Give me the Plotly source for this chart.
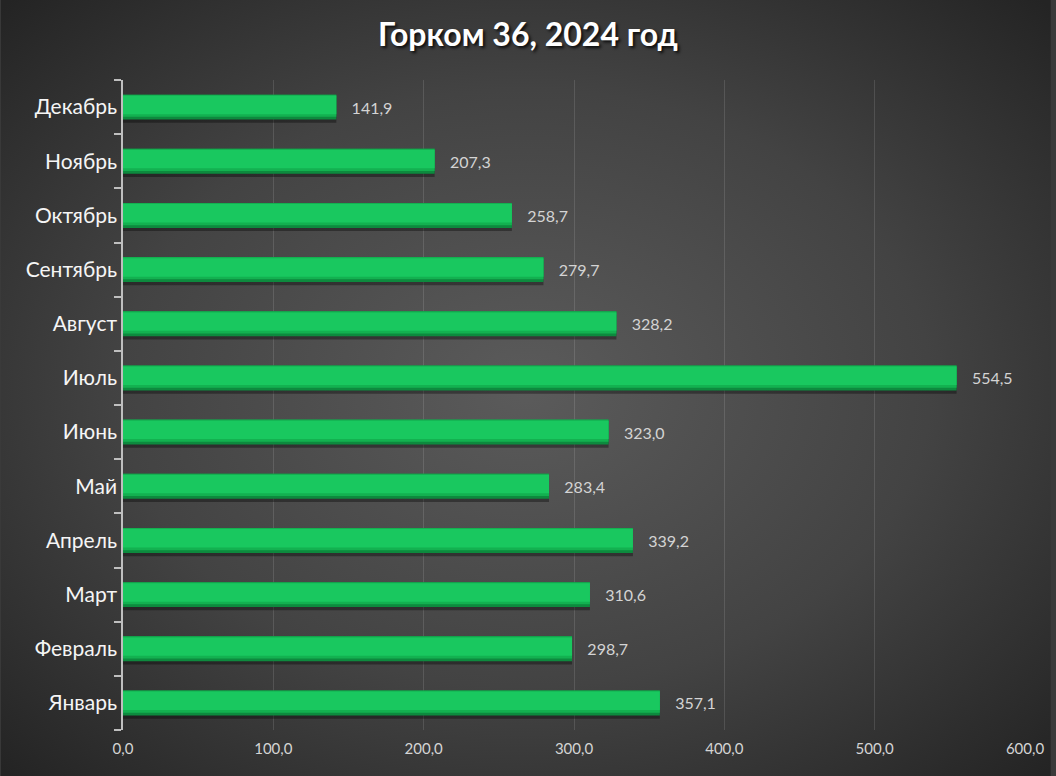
import base64
import plotly.graph_objects as go

# monthly values, Jan at the bottom
months = ['Январь', 'Февраль', 'Март', 'Апрель', 'Май', 'Июнь',
          'Июль', 'Август', 'Сентябрь', 'Октябрь', 'Ноябрь', 'Декабрь']
values = [357.1, 298.7, 310.6, 339.2, 283.4, 323.0,
          554.5, 328.2, 279.7, 258.7, 207.3, 141.9]
x_ticks = [0, 100, 200, 300, 400, 500, 600]

W, H = 1056, 776
ML, MR, MT, MB = 123, 26, 80, 46
pw, ph = W - ML - MR, H - MT - MB

# radial gradient backdrop as an inline svg
svg = (
    f'<svg xmlns="http://www.w3.org/2000/svg" width="{W}" height="{H}">'
    '<defs><radialGradient id="g" cx="50%" cy="50%" r="70%">'
    '<stop offset="0" stop-color="#5b5b5b"/>'
    '<stop offset="0.55" stop-color="#434343"/>'
    '<stop offset="1" stop-color="#242424"/>'
    '</radialGradient></defs>'
    '<rect width="100%" height="100%" fill="url(#g)"/></svg>'
)
bg_src = 'data:image/svg+xml;base64,' + base64.b64encode(svg.encode()).decode()

bw = 0.46
fig = go.Figure()

# soft shadow under each bar
fig.add_trace(go.Bar(
    y=months, x=values, orientation='h',
    width=bw, offset=-bw / 2 - 0.06,
    marker=dict(color='rgba(0,0,0,0.35)', line_width=0),
    hoverinfo='skip', showlegend=False
))
# darker base of the bar
fig.add_trace(go.Bar(
    y=months, x=values, orientation='h',
    width=bw, offset=-bw / 2,
    marker=dict(color='#0d8a3e', line_width=0),
    text=values, texttemplate='   %{x:.1f}', textposition='outside',
    textfont=dict(family='Lato', size=16, color='#d4d4d4'),
    cliponaxis=False, showlegend=False,
    hovertemplate='%{y}: %{x:.1f}<extra></extra>'
))
# mid tone
fig.add_trace(go.Bar(
    y=months, x=values, orientation='h',
    width=bw - 0.05, offset=-bw / 2 + 0.05,
    marker=dict(color='#13b150', line_width=0),
    hoverinfo='skip', showlegend=False
))
# bright top part
fig.add_trace(go.Bar(
    y=months, x=values, orientation='h',
    width=bw - 0.12, offset=-bw / 2 + 0.10,
    marker=dict(color='#19c85f', line_width=0),
    hoverinfo='skip', showlegend=False
))

fig.update_layout(
    width=W, height=H,
    margin=dict(l=ML, r=MR, t=MT, b=MB),
    barmode='overlay',
    separators=', ',
    paper_bgcolor='#3a3a3a',
    plot_bgcolor='rgba(0,0,0,0)',
    title=dict(
        text='<b>Горком 36, 2024 год</b>',
        x=0.5, xanchor='center', y=1 - 35 / H, yanchor='middle',
        font=dict(family='Lato', size=32, color='#ffffff',
                  shadow='2px 2px 3px rgba(0,0,0,0.8)')
    ),
    images=[dict(
        source=bg_src, xref='paper', yref='paper',
        x=-ML / pw, y=1 + MT / ph, sizex=W / pw, sizey=H / ph,
        xanchor='left', yanchor='top', sizing='stretch', layer='below'
    )],
    xaxis=dict(
        range=[0, 600], tickvals=x_ticks, tickformat='.1f',
        showgrid=True, gridcolor='rgba(255,255,255,0.12)', gridwidth=1,
        zeroline=False, showline=False, ticks='', ticklabelstandoff=8,
        tickfont=dict(family='Lato', size=15, color='#d4d4d4'),
    ),
    yaxis=dict(
        categoryorder='array', categoryarray=months,
        showline=True, linecolor='#bfbfbf', linewidth=1.5,
        ticks='outside', tickson='boundaries', ticklen=7, tickcolor='#bfbfbf',
        tickwidth=1.5, showgrid=False,
        tickfont=dict(family='Lato', size=21, color='#f5f5f5'),
    ),
)

fig.write_html('out.html', config={'displayModeBar': False},
               post_script="document.body.style.margin='0';")
